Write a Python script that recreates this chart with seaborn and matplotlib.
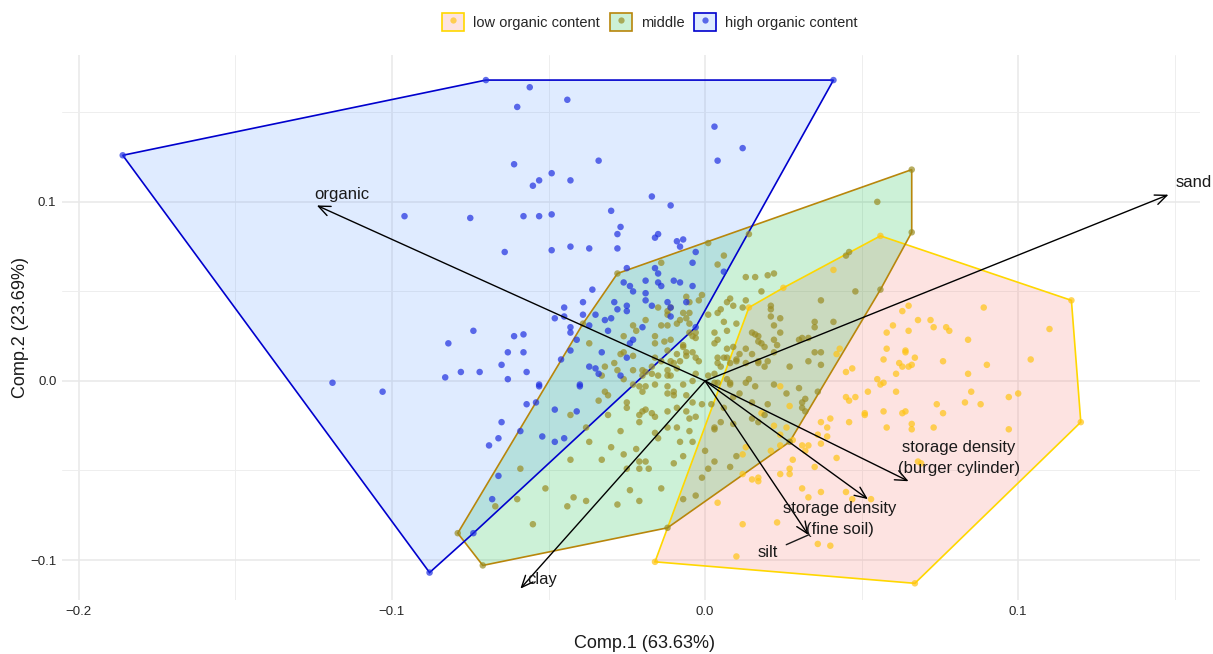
#!/usr/bin/env python3
# PCA biplot of soil samples with convex hulls per organic-content group

import numpy as np
import pandas as pd
import matplotlib
matplotlib.use("Agg")
import matplotlib.pyplot as plt
import seaborn as sns
from matplotlib.patches import Patch
from matplotlib.lines import Line2D
from matplotlib.ticker import FixedLocator

sns.set_theme(style="white")
plt.rcParams['font.family'] = ['Liberation Sans', 'DejaVu Sans']

# ---- data: PCA scores ----
groups = ["low organic content", "middle", "high organic content"]

high_c1 = [-0.070, 0.041, -0.056, -0.060, -0.044, 0.003, 0.012, 0.004, -0.034, -0.061,
           -0.055, -0.053, -0.049, -0.043, -0.017, -0.186, -0.096, -0.075, -0.058, -0.053,
           -0.049, -0.030, -0.011, -0.027, -0.028, -0.016, -0.015, -0.009, -0.007, -0.008,
           -0.064, -0.049, -0.043, -0.037, -0.028, -0.025, -0.016, -0.015, -0.003, -0.004,
           0.006, -0.019, -0.015, -0.014, -0.010, -0.008, -0.004, -0.026, -0.024, -0.023,
           -0.019, -0.036, -0.039, -0.045, -0.048, -0.045, -0.039, -0.035, -0.029, -0.025,
           -0.028, -0.025, -0.019, -0.017, -0.012, -0.011, -0.011, -0.006, -0.043, -0.043,
           -0.037, -0.032, -0.030, -0.031, -0.020, -0.074, -0.082, -0.061, -0.058, -0.063,
           -0.058, -0.041, -0.043, -0.033, -0.024, -0.023, -0.025, -0.046, -0.065, -0.037,
           -0.035, -0.034, -0.027, -0.083, -0.078, -0.072, -0.063, -0.057, -0.053, -0.053,
           -0.040, -0.040, -0.057, -0.054, -0.048, -0.041, -0.065, -0.059, -0.052, -0.045,
           -0.048, -0.069, -0.066, -0.066, -0.068, -0.074, -0.088, -0.119, -0.103, -0.003]
high_c2 = [0.168, 0.168, 0.164, 0.153, 0.157, 0.142, 0.130, 0.123, 0.123, 0.121,
           0.109, 0.112, 0.116, 0.112, 0.103, 0.126, 0.092, 0.091, 0.092, 0.092,
           0.093, 0.095, 0.098, 0.086, 0.082, 0.080, 0.082, 0.078, 0.079, 0.075,
           0.072, 0.073, 0.075, 0.074, 0.074, 0.063, 0.063, 0.060, 0.072, 0.066,
           0.061, 0.056, 0.055, 0.053, 0.056, 0.055, 0.053, 0.055, 0.053, 0.050,
           0.049, 0.051, 0.044, 0.041, 0.035, 0.036, 0.037, 0.037, 0.044, 0.042,
           0.040, 0.039, 0.045, 0.042, 0.044, 0.041, 0.036, 0.044, 0.030, 0.027,
           0.031, 0.034, 0.035, 0.028, 0.030, 0.028, 0.021, 0.025, 0.026, 0.016,
           0.016, 0.023, 0.017, 0.016, 0.021, 0.023, 0.013, 0.012, 0.009, 0.008,
           0.007, 0.004, 0.003, 0.002, 0.005, 0.005, 0.001, 0.005, -0.002, -0.003,
           -0.002, -0.003, -0.013, -0.012, -0.016, -0.017, -0.023, -0.028, -0.031, -0.032,
           -0.034, -0.036, -0.032, -0.053, -0.066, -0.085, -0.107, -0.001, -0.006, 0.030]

mid_c1 = [-0.032, -0.031, -0.034, -0.043, -0.038, -0.037, -0.030, -0.026, -0.022, -0.021,
          -0.019, -0.021, -0.018, -0.025, -0.033, -0.043, -0.059, -0.051, -0.042, -0.038,
          -0.044, -0.060, -0.067, -0.055, -0.024, -0.028, -0.021, -0.014, -0.010, -0.007,
          -0.008, -0.004, -0.005, -0.005, -0.009, -0.010, -0.006, -0.012, -0.012, -0.015,
          -0.016, -0.021, -0.021, -0.020, -0.019, -0.017, -0.025, -0.025, -0.020, -0.021,
          -0.019, -0.012, -0.010, -0.007, -0.004, -0.001, 0.002, 0.000, 0.003, 0.001,
          0.008, 0.010, -0.001, -0.003, -0.007, 0.004, 0.008, 0.011, 0.009, 0.003,
          0.005, 0.003, -0.027, -0.031, 0.006, 0.013, 0.015, 0.020, 0.015, 0.017,
          0.009, 0.022, 0.030, 0.032, 0.031, 0.031, 0.032, 0.036, 0.026, 0.019,
          0.016, 0.014, 0.010, 0.011, 0.017, 0.018, 0.016, 0.017, 0.020, 0.015,
          0.007, 0.008,
          0.014, 0.001, 0.006, 0.004, -0.014, 0.013, 0.016, 0.020, 0.022, 0.018,
          0.008, 0.007, 0.009, 0.013, 0.005, 0.004, 0.001, -0.001, -0.002, -0.006,
          -0.005, -0.005, -0.007, -0.008, -0.006, -0.005, -0.009, -0.011, -0.012, -0.015,
          -0.019, -0.023, -0.022, -0.026, -0.016, -0.013, -0.011, -0.007, -0.004, -0.003,
          -0.003, 0.003, 0.006, 0.003, 0.010, 0.007, 0.004, 0.004, 0.005, 0.007,
          0.010, 0.015, 0.017, 0.019, 0.022, 0.023, 0.022, 0.017, 0.019, 0.027,
          0.030, 0.024, 0.021, 0.022, 0.021, -0.027, -0.026, -0.029, -0.028, -0.020,
          -0.020, -0.017, -0.015, -0.012, -0.011, -0.012, -0.010, -0.009, -0.006, -0.004,
          -0.003, -0.002, -0.007, 0.001, 0.003, -0.023, -0.016, -0.017, -0.016, -0.023,
          -0.023, -0.033, -0.039, -0.037, -0.016, -0.012, -0.012, -0.014, -0.005, -0.006,
          -0.012, -0.019, -0.032, -0.026, -0.009, -0.004, -0.011, -0.014, -0.008, -0.003,
          -0.016, -0.003, -0.006, -0.012, -0.009, 0.012, 0.007, 0.004, 0.013, 0.009,
          0.006, 0.013, 0.008, 0.003,
          0.055, 0.066, 0.066, 0.046, 0.045, 0.056, 0.048, 0.037, 0.041, 0.035,
          0.035, 0.031, 0.033, 0.024, 0.021, 0.037, 0.035, 0.033, 0.037,
          -0.079, -0.071, -0.012, 0.027, -0.028]
mid_c2 = [-0.006, -0.008, -0.011, -0.019, -0.026, -0.034, -0.037, -0.041, -0.038, -0.045,
          -0.045, -0.049, -0.049, -0.049, -0.044, -0.044, -0.049, -0.060, -0.065, -0.067,
          -0.070, -0.066, -0.070, -0.080, -0.061, -0.069, -0.067, -0.060, -0.046, -0.042,
          -0.034, -0.034, -0.028, -0.021, -0.015, -0.008, -0.008, -0.017, -0.003, -0.032,
          -0.029, -0.023, -0.019, -0.017, -0.016, -0.018, -0.015, -0.012, -0.006, -0.003,
          -0.003, -0.007, -0.006, -0.002, -0.012, -0.013, -0.013, -0.039, -0.045, -0.049,
          -0.048, -0.042, -0.054, -0.064, -0.066, -0.001, -0.002, -0.007, -0.009, -0.027,
          -0.023, -0.026, -0.028, -0.019, -0.015, -0.001, -0.012, -0.013, -0.021, -0.023,
          -0.024, -0.002, -0.004, -0.010, -0.012, -0.015, -0.017, -0.006, -0.007, -0.019,
          -0.003, 0.001, 0.012, 0.015, 0.010, 0.021, 0.026, 0.022, 0.011, 0.015,
          0.001, -0.001,
          0.082, 0.077, 0.070, 0.065, 0.066, 0.058, 0.058, 0.059, 0.060, 0.050,
          0.046, 0.044, 0.042, 0.045, 0.040, 0.038, 0.037, 0.048, 0.045, 0.047,
          0.044, 0.038, 0.038, 0.034, 0.035, 0.032, 0.032, 0.041, 0.039, 0.041,
          0.034, 0.031, 0.028, 0.025, 0.025, 0.022, 0.023, 0.019, 0.025, 0.027,
          0.024, 0.021, 0.033, 0.027, 0.032, 0.018, 0.013, 0.010, 0.008, 0.013,
          0.011, 0.027, 0.025, 0.019, 0.023, 0.020, 0.016, 0.011, 0.008, 0.008,
          0.023, 0.027, 0.036, 0.031, 0.042, 0.015, 0.016, 0.010, 0.006, 0.006,
          0.003, 0.004, 0.003, 0.003, 0.003, 0.006, 0.010, 0.015, 0.014, 0.016,
          0.013, 0.011, 0.020, 0.003, 0.004, -0.002, -0.002, 0.008, 0.013, 0.014,
          0.006, 0.003, 0.032, 0.021, 0.021, 0.037, 0.031, 0.031, 0.027, 0.016,
          0.017, 0.005, 0.008, 0.001, 0.007, 0.000, 0.011, 0.011, 0.011, 0.004,
          -0.020, -0.020, -0.017, -0.026, -0.026, 0.041, 0.028, 0.023, 0.018, 0.019,
          0.013, 0.010, 0.010, -0.001,
          0.100, 0.118, 0.083, 0.072, 0.070, 0.051, 0.050, 0.045, 0.033, 0.033,
          0.030, 0.024, 0.024, 0.035, 0.040, 0.016, 0.016, 0.011, 0.009,
          -0.085, -0.103, -0.082, -0.034, 0.060]

low_c1 = [-0.016, 0.067, 0.120, 0.117, 0.056, 0.014,
          0.065, 0.063, 0.089, 0.068, 0.072, 0.060, 0.058, 0.065, 0.073, 0.077,
          0.078, 0.110, 0.084, 0.058, 0.064, 0.064, 0.067, 0.057, 0.104, 0.076,
          0.090, 0.062, 0.063, 0.065, 0.066, 0.061, 0.084, 0.055, 0.056, 0.057,
          0.047, 0.052, 0.061, 0.085, 0.100, 0.097, 0.074, 0.083, 0.088, 0.046,
          0.048, 0.057, 0.051, 0.051, 0.063, 0.064, 0.076, 0.066, 0.066, 0.073,
          0.058, 0.097, 0.046, 0.068, 0.069, 0.045, 0.045, 0.037, 0.040, 0.039,
          0.036, 0.039, 0.037, 0.031, 0.032, 0.033, 0.042, 0.028, 0.027, 0.027,
          0.024, 0.035, 0.031, 0.037, 0.045, 0.053, 0.033, 0.047, 0.012, 0.017,
          0.015, 0.017, 0.004, 0.012, 0.023, 0.036, 0.040, 0.010, 0.041, 0.025,
          0.024, 0.027, 0.022, 0.026, 0.024, 0.021, 0.024, 0.012, 0.018, 0.013,
          0.042, 0.043, 0.028]
low_c2 = [-0.101, -0.113, -0.023, 0.045, 0.081, 0.041,
          0.042, 0.039, 0.041, 0.034, 0.034, 0.031, 0.027, 0.028, 0.030, 0.030,
          0.028, 0.029, 0.023, 0.018, 0.017, 0.016, 0.013, 0.012, 0.012, 0.011,
          0.009, 0.010, 0.008, 0.008, 0.009, 0.004, 0.004, 0.001, -0.002, -0.001,
          0.007, -0.006, -0.006, -0.006, -0.007, -0.009, -0.013, -0.012, -0.013, -0.011,
          -0.009, -0.017, -0.018, -0.019, -0.018, -0.017, -0.018, -0.024, -0.027, -0.026,
          -0.026, -0.027, -0.023, -0.045, -0.046, 0.005, -0.009, -0.023, -0.021, -0.026,
          -0.030, -0.031, -0.035, -0.036, -0.039, -0.036, -0.043, -0.044, -0.052, -0.049,
          -0.052, -0.048, -0.060, -0.062, -0.062, -0.066, -0.065, -0.066, -0.052, -0.056,
          -0.055, -0.054, -0.068, -0.080, -0.079, -0.091, -0.092, -0.098, 0.062, 0.052,
          -0.003, -0.014, -0.025, -0.026, -0.030, -0.039, -0.036, -0.041, -0.018, -0.037,
          0.015, 0.018, -0.033]

# variable loadings (arrow tips) and where their labels sit
var_names = ["organic", "sand", "clay", "silt",
             "storage density\n(fine soil)", "storage density\n(burger cylinder)"]
var_c1 = [-0.124, 0.148, -0.059, 0.033, 0.052, 0.065]
var_c2 = [0.098, 0.104, -0.116, -0.086, -0.066, -0.056]
lab_c1 = [-0.116, 0.156, -0.052, 0.020, 0.043, 0.081]
lab_c2 = [0.104, 0.111, -0.111, -0.096, -0.077, -0.043]

fill_cols = ["#F8766D", "#00BA38", "#619CFF"]
edge_cols = ["#FFD700", "#B8860B", "#0000CD"]
point_cols = ["#FFC414", "#9A8C22", "#1F2FE0"]

df = pd.concat([
    pd.DataFrame({"Comp.1": low_c1, "Comp.2": low_c2, "group": groups[0]}),
    pd.DataFrame({"Comp.1": mid_c1, "Comp.2": mid_c2, "group": groups[1]}),
    pd.DataFrame({"Comp.1": high_c1, "Comp.2": high_c2, "group": groups[2]}),
], ignore_index=True)


def convex_hull(pts):
    pts = sorted(set(pts))
    if len(pts) < 3:
        return pts

    def cross(o, a, b):
        return (a[0] - o[0]) * (b[1] - o[1]) - (a[1] - o[1]) * (b[0] - o[0])

    lower, upper = [], []
    for p in pts:
        while len(lower) >= 2 and cross(lower[-2], lower[-1], p) <= 0:
            lower.pop()
        lower.append(p)
    for p in reversed(pts):
        while len(upper) >= 2 and cross(upper[-2], upper[-1], p) <= 0:
            upper.pop()
        upper.append(p)
    return lower[:-1] + upper[:-1]


fig = plt.figure(figsize=(12.13, 6.54), dpi=100)
ax = fig.add_axes([0.0511, 0.0826, 0.938, 0.8333])

# hulls
for g, fc, ec in zip(groups, fill_cols, edge_cols):
    sub = df[df["group"] == g]
    hull = np.array(convex_hull(list(zip(sub["Comp.1"], sub["Comp.2"]))))
    ax.fill(hull[:, 0], hull[:, 1], facecolor=fc, alpha=0.2, edgecolor="none", zorder=1)
    ax.fill(hull[:, 0], hull[:, 1], facecolor="none", edgecolor=ec, lw=1.2, zorder=2)

# points
sns.scatterplot(data=df, x="Comp.1", y="Comp.2", hue="group", hue_order=groups,
                palette=point_cols, s=22, alpha=0.7, edgecolor="none",
                legend=False, ax=ax, zorder=3)

# loading arrows
for i, name in enumerate(var_names):
    ax.annotate("", xy=(var_c1[i], var_c2[i]), xytext=(0, 0),
                arrowprops=dict(arrowstyle="->,head_length=0.7,head_width=0.3",
                                color="black", lw=1.0, shrinkA=0, shrinkB=0),
                zorder=4)
    if name == "silt":
        ax.annotate(name, xy=(var_c1[i], var_c2[i]), xytext=(lab_c1[i], lab_c2[i]),
                    ha="center", va="center", fontsize=12, color="#1a1a1a",
                    arrowprops=dict(arrowstyle="-", color="#1a1a1a", lw=1.0,
                                    shrinkA=4, shrinkB=0),
                    zorder=5)
    else:
        ax.text(lab_c1[i], lab_c2[i], name, ha="center", va="center", fontsize=12,
                color="#1a1a1a", linespacing=1.55, zorder=5, clip_on=False)

ax.set_xlim(-0.2054, 0.158)
ax.set_ylim(-0.1223, 0.182)
ax.xaxis.set_major_locator(FixedLocator([-0.2, -0.1, 0.0, 0.1]))
ax.yaxis.set_major_locator(FixedLocator([-0.1, 0.0, 0.1]))
ax.xaxis.set_minor_locator(FixedLocator([-0.15, -0.05, 0.05, 0.15]))
ax.yaxis.set_minor_locator(FixedLocator([-0.05, 0.05, 0.15]))
ax.grid(which="major", color="#E8E8E8", lw=1.1, zorder=0)
ax.grid(which="minor", color="#EEEEEE", lw=0.7, zorder=0)
ax.set_axisbelow(True)
for sp in ax.spines.values():
    sp.set_visible(False)
ax.tick_params(which="both", length=0, labelsize=9.5, labelcolor="#262626", pad=4)
ax.set_xlabel("Comp.1 (63.63%)", fontsize=13, color="#1a1a1a")
ax.set_ylabel("Comp.2 (23.69%)", fontsize=13, color="#1a1a1a", labelpad=1)
ax.xaxis.set_label_coords(0.5123, -0.064)

# legend on top
handles = []
for fc, ec, pc in zip(fill_cols, edge_cols, point_cols):
    patch = Patch(facecolor=matplotlib.colors.to_rgba(fc, 0.2), edgecolor=ec, lw=1.2)
    dot = Line2D([], [], marker="o", ls="", color=pc, alpha=0.7, markersize=4.5,
                 markeredgewidth=0)
    handles.append((patch, dot))
fig.legend(handles, groups, loc="center", bbox_to_anchor=(650 / 1213, 1 - 22 / 654),
           ncol=3, frameon=False, fontsize=10.5, handlelength=1.5, handleheight=1.5,
           handletextpad=0.6, columnspacing=0.7)

fig.savefig("out.png", dpi=100)
